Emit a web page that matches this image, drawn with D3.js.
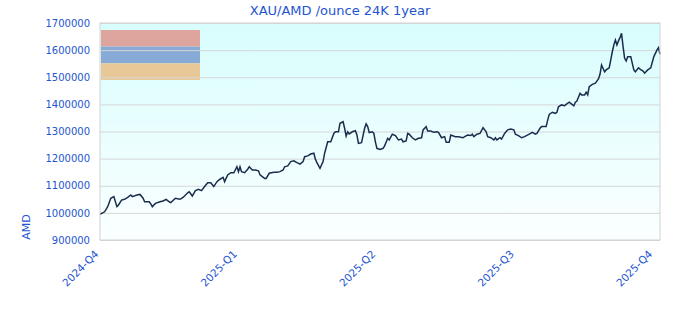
<!DOCTYPE html>
<html>
<head>
<meta charset="utf-8">
<script src="https://cdn.jsdelivr.net/npm/d3@7"></script>
<style>
  body { margin: 0; background: #fff; }
  svg text { font-family: "DejaVu Sans", sans-serif; fill: #1e55d0; }
</style>
</head>
<body>
<svg id="chart" width="680" height="320"></svg>
<script>
'use strict';

const dates = [
  '2024-11-14','2024-11-17','2024-11-19','2024-11-21','2024-11-23','2024-11-25','2024-11-26','2024-11-28','2024-11-30',
  '2024-12-02','2024-12-04','2024-12-05','2024-12-08','2024-12-10','2024-12-12','2024-12-13','2024-12-16','2024-12-17',
  '2024-12-18','2024-12-20','2024-12-23','2024-12-25','2024-12-27','2024-12-29','2024-12-30',
  '2025-01-02','2025-01-05','2025-01-07','2025-01-10','2025-01-11','2025-01-13','2025-01-15','2025-01-17','2025-01-19',
  '2025-01-21','2025-01-23','2025-01-25','2025-01-27','2025-01-29','2025-01-31',
  '2025-02-02','2025-02-03','2025-02-05','2025-02-07','2025-02-09','2025-02-11','2025-02-12','2025-02-13','2025-02-14',
  '2025-02-16','2025-02-18','2025-02-19','2025-02-21','2025-02-23','2025-02-25','2025-02-26',
  '2025-03-01','2025-03-02','2025-03-04','2025-03-07','2025-03-09','2025-03-11','2025-03-13','2025-03-14','2025-03-16',
  '2025-03-18','2025-03-20','2025-03-22','2025-03-24','2025-03-26','2025-03-27','2025-03-29','2025-03-31',
  '2025-04-02','2025-04-03','2025-04-04','2025-04-06','2025-04-08','2025-04-09','2025-04-11','2025-04-13','2025-04-15',
  '2025-04-16','2025-04-18','2025-04-19','2025-04-21','2025-04-22','2025-04-23','2025-04-24','2025-04-25','2025-04-27',
  '2025-04-29','2025-04-30',
  '2025-05-01','2025-05-03','2025-05-05','2025-05-06','2025-05-07','2025-05-08','2025-05-10','2025-05-11','2025-05-12',
  '2025-05-13','2025-05-15','2025-05-17','2025-05-18','2025-05-20','2025-05-21','2025-05-23','2025-05-25','2025-05-27',
  '2025-05-29','2025-05-30',
  '2025-06-01','2025-06-02','2025-06-03','2025-06-05','2025-06-07','2025-06-09','2025-06-11','2025-06-12','2025-06-14',
  '2025-06-15','2025-06-17','2025-06-19','2025-06-21','2025-06-22','2025-06-24','2025-06-26','2025-06-27','2025-06-29',
  '2025-06-30',
  '2025-07-03','2025-07-05','2025-07-08','2025-07-09','2025-07-11','2025-07-13','2025-07-14','2025-07-15','2025-07-17',
  '2025-07-19','2025-07-21','2025-07-23','2025-07-24','2025-07-26','2025-07-28','2025-07-29','2025-07-30',
  '2025-08-01','2025-08-02','2025-08-04','2025-08-06','2025-08-08','2025-08-10','2025-08-11','2025-08-13','2025-08-15',
  '2025-08-17','2025-08-20','2025-08-22','2025-08-24','2025-08-25','2025-08-27','2025-08-28','2025-08-31',
  '2025-09-01','2025-09-02','2025-09-04','2025-09-06','2025-09-07','2025-09-08','2025-09-10','2025-09-12','2025-09-13',
  '2025-09-15','2025-09-16','2025-09-18','2025-09-19','2025-09-20','2025-09-22','2025-09-23','2025-09-25','2025-09-26',
  '2025-09-27','2025-09-28','2025-09-30',
  '2025-10-02','2025-10-04','2025-10-05','2025-10-06','2025-10-08','2025-10-09','2025-10-11','2025-10-12','2025-10-13',
  '2025-10-14','2025-10-15','2025-10-16','2025-10-17','2025-10-18','2025-10-19','2025-10-20','2025-10-21','2025-10-22',
  '2025-10-23','2025-10-25','2025-10-26','2025-10-27','2025-10-28','2025-10-30','2025-10-31',
  '2025-11-02','2025-11-03','2025-11-05','2025-11-07','2025-11-09','2025-11-11','2025-11-12','2025-11-13'
];

const prices = [
  995000,1004000,1023000,1054000,1060000,1023000,1029000,1047000,1050000,
  1057000,1066000,1060000,1066000,1068000,1054000,1041000,1041000,1033000,
  1023000,1035000,1041000,1044000,1050000,1041000,1038000,
  1054000,1050000,1057000,1074000,1078000,1062000,1082000,1087000,1082000,
  1097000,1111000,1111000,1097000,1115000,1124000,
  1131000,1115000,1140000,1148000,1148000,1170000,1152000,1170000,1152000,
  1148000,1161000,1170000,1158000,1158000,1155000,1140000,
  1127000,1127000,1146000,1150000,1150000,1152000,1158000,1170000,1173000,
  1189000,1192000,1185000,1180000,1189000,1207000,1210000,1217000,
  1220000,1198000,1185000,1164000,1189000,1220000,1262000,1262000,1293000,
  1299000,1299000,1330000,1336000,1312000,1283000,1299000,1291000,1299000,
  1303000,1287000,
  1256000,1259000,1312000,1328000,1318000,1296000,1299000,1293000,1262000,
  1238000,1234000,1238000,1247000,1275000,1269000,1290000,1285000,1269000,
  1272000,1262000,
  1265000,1293000,1290000,1277000,1269000,1275000,1277000,1306000,1318000,
  1302000,1302000,1297000,1299000,1297000,1277000,1281000,1260000,1260000,
  1287000,
  1281000,1281000,1277000,1281000,1287000,1285000,1290000,1281000,1290000,
  1293000,1314000,1299000,1281000,1277000,1269000,1277000,1269000,
  1277000,1272000,1293000,1306000,1309000,1306000,1290000,1285000,1277000,
  1281000,1290000,1297000,1290000,1293000,1312000,1318000,1318000,
  1342000,1363000,1371000,1367000,1371000,1391000,1398000,1395000,1400000,
  1408000,1404000,1395000,1408000,1412000,1441000,1435000,1435000,1445000,
  1435000,1465000,1474000,
  1478000,1494000,1511000,1545000,1520000,1527000,1535000,1564000,1594000,
  1619000,1637000,1619000,1634000,1646000,1662000,1613000,1570000,1560000,
  1576000,1576000,1551000,1527000,1520000,1535000,1530000,
  1523000,1515000,1527000,1535000,1576000,1600000,1609000,1585000
];

const yTicks = [900000, 1000000, 1100000, 1200000, 1300000, 1400000, 1500000, 1600000, 1700000];
const xTickDates = ['2024-11-14', '2025-02-12', '2025-05-13', '2025-08-11', '2025-11-09'];
const xTickLabels = ['2024-Q4', '2025-Q1', '2025-Q2', '2025-Q3', '2025-Q4'];
const legendColors = ['#dea59e', '#88aad6', '#e8c896'];

const parse = d3.timeParse('%Y-%m-%d');
const series = dates.map((d, i) => ({ date: parse(d), value: prices[i] }));

const plotLeft = 100, plotRight = 660, plotTop = 23, plotBottom = 240;
const svg = d3.select('#chart');

const x = d3.scaleTime()
    .domain(d3.extent(series, d => d.date))
    .range([plotLeft, plotRight]);
const y = d3.scaleLinear()
    .domain([900000, 1700000])
    .range([plotBottom, plotTop]);

// plot background
const grad = svg.append('defs').append('linearGradient')
    .attr('id', 'bg').attr('x1', 0).attr('y1', 0).attr('x2', 0).attr('y2', 1);
grad.append('stop').attr('offset', '0%').attr('stop-color', '#d8fdfd');
grad.append('stop').attr('offset', '100%').attr('stop-color', '#fbffff');

svg.append('rect')
    .attr('x', plotLeft).attr('y', plotTop)
    .attr('width', plotRight - plotLeft).attr('height', plotBottom - plotTop)
    .attr('fill', 'url(#bg)');

// empty legend boxes
const band = d3.scaleBand().domain(d3.range(legendColors.length)).range([30, 80]);
svg.append('g').selectAll('rect')
    .data(legendColors).enter().append('rect')
    .attr('x', plotLeft + 1)
    .attr('y', (d, i) => band(i))
    .attr('width', 99)
    .attr('height', band.bandwidth())
    .attr('fill', d => d);

// y axis + grid
const yAxis = svg.append('g')
    .attr('transform', 'translate(' + plotLeft + ',0)')
    .call(d3.axisLeft(y).tickValues(yTicks).tickSize(-(plotRight - plotLeft)).tickPadding(10).tickFormat(d3.format('d')));
yAxis.select('.domain').remove();
yAxis.selectAll('line').attr('stroke', '#d6d6d6');
yAxis.selectAll('text').attr('font-size', 10).attr('fill', '#1e55d0');

// x axis labels
const xAxis = svg.append('g')
    .attr('transform', 'translate(0,' + plotBottom + ')')
    .call(d3.axisBottom(x).tickValues(xTickDates.map(parse)).tickSize(0)
        .tickFormat((d, i) => xTickLabels[i]));
xAxis.select('.domain').remove();
xAxis.selectAll('text')
    .attr('font-size', 10.5)
    .attr('fill', '#1e55d0')
    .attr('text-anchor', 'end')
    .attr('dy', '0.35em')
    .attr('transform', 'translate(-6,10) rotate(-45)');

// price line
svg.append('path')
    .datum(series)
    .attr('fill', 'none')
    .attr('stroke', '#1a2d4e')
    .attr('stroke-width', 1.5)
    .attr('d', d3.line().x(d => x(d.date)).y(d => y(d.value)));

// plot border
svg.append('rect')
    .attr('x', plotLeft).attr('y', plotTop)
    .attr('width', plotRight - plotLeft).attr('height', plotBottom - plotTop)
    .attr('fill', 'none').attr('stroke', '#d2d2d2');

svg.append('text')
    .attr('x', 340).attr('y', 15)
    .attr('text-anchor', 'middle')
    .attr('font-size', 13)
    .text('XAU/AMD /ounce 24K 1year');

svg.append('text')
    .attr('transform', 'translate(30,227) rotate(-90)')
    .attr('text-anchor', 'middle')
    .attr('font-size', 11)
    .text('AMD');
</script>
</body>
</html>
